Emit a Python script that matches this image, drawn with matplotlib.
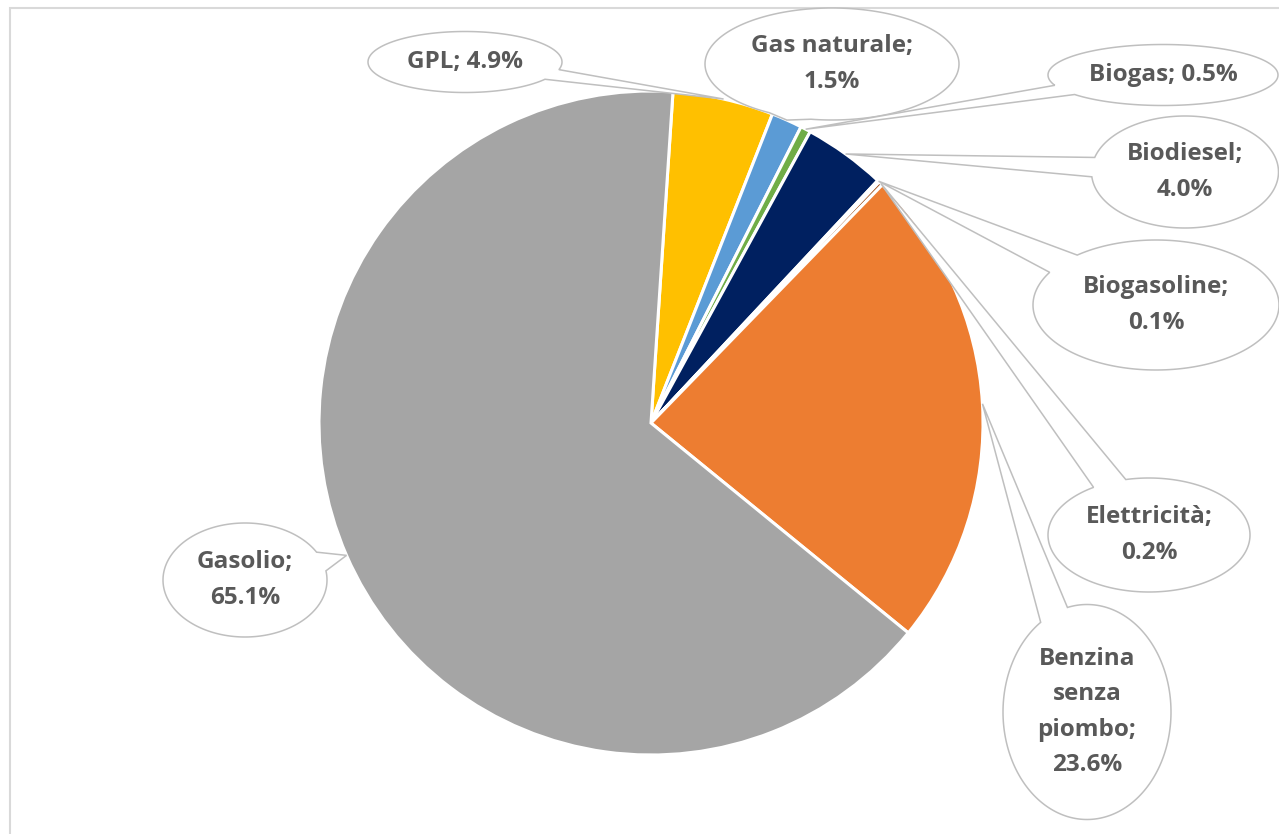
import numpy as np
import matplotlib.pyplot as plt
from matplotlib.patches import Polygon, Rectangle

# dati: consumi per fonte nei trasporti (quote %)
fuels = ['GPL', 'Gas naturale', 'Biogas', 'Biodiesel', 'Biogasoline',
         'Elettricità', 'Benzina senza piombo', 'Gasolio']
shares = [4.9, 1.5, 0.5, 4.0, 0.1, 0.2, 23.6, 65.1]
colors = ['#FFC000', '#5B9BD5', '#70AD47', '#002060', '#264478',
          '#9E480E', '#ED7D31', '#A5A5A5']
# testo delle etichette (come vanno a capo)
label_names = ['GPL;', 'Gas naturale;', 'Biogas;', 'Biodiesel;', 'Biogasoline;',
               'Elettricità;', 'Benzina\nsenza\npiombo;', 'Gasolio;']
label_sep = [' ', '\n', ' ', '\n', '\n', '\n', '\n', '\n']

# posizione dei fumetti in pixel (x, y dall'alto) e dimensioni
box_xy = [(465, 62), (832, 64), (1163, 75), (1185, 172), (1156, 305),
          (1149, 535), (1087, 712), (245, 580)]
box_wh = [(194, 61), (254, 112), (230, 61), (187, 112), (246, 130),
          (202, 114), (168, 215), (164, 114)]

W, H = 1279, 834
fig = plt.figure(figsize=(W / 100, H / 100), dpi=100)
ax = fig.add_axes([0, 0, 1, 1])

# cornice grigia chiara
ax.add_patch(Rectangle((10, -20), W + 20, H - 8 + 20, fill=False,
                       edgecolor='#D9D9D9', linewidth=1.5, zorder=0))

cx, cy, R = 651, H - 423, 332
wedges, _ = ax.pie(shares, colors=colors, startangle=86.2, counterclock=False,
                   center=(cx, cy), radius=R, frame=True,
                   wedgeprops=dict(edgecolor='white', linewidth=2.2))
ax.set_xlim(0, W)
ax.set_ylim(0, H)
ax.set_aspect('equal')
ax.axis('off')

grey_txt = '#595959'
for i, w in enumerate(wedges):
    mid = np.deg2rad((w.theta1 + w.theta2) / 2)
    tx, ty = cx + R * np.cos(mid), cy + R * np.sin(mid)
    ex, ey = box_xy[i][0], H - box_xy[i][1]
    a, b = box_wh[i][0] / 2, box_wh[i][1] / 2
    phi = np.arctan2((ty - ey) / b, (tx - ex) / a)
    d = np.deg2rad(10)
    t = np.linspace(phi + d, phi - d + 2 * np.pi, 200)
    pts = np.column_stack([ex + a * np.cos(t), ey + b * np.sin(t)])
    pts = np.vstack([pts, [tx, ty]])
    ax.add_patch(Polygon(pts, closed=True, facecolor='white',
                         edgecolor='#BFBFBF', linewidth=1.1, zorder=5))
    txt = f'{label_names[i]}{label_sep[i]}{shares[i]:.1f}%'
    ax.text(ex, ey, txt, ha='center', va='center', multialignment='center',
            fontsize=17.5, fontweight='bold', color=grey_txt, family='Open Sans',
            linespacing=1.62, zorder=6)

fig.savefig('out.png', dpi=100)
